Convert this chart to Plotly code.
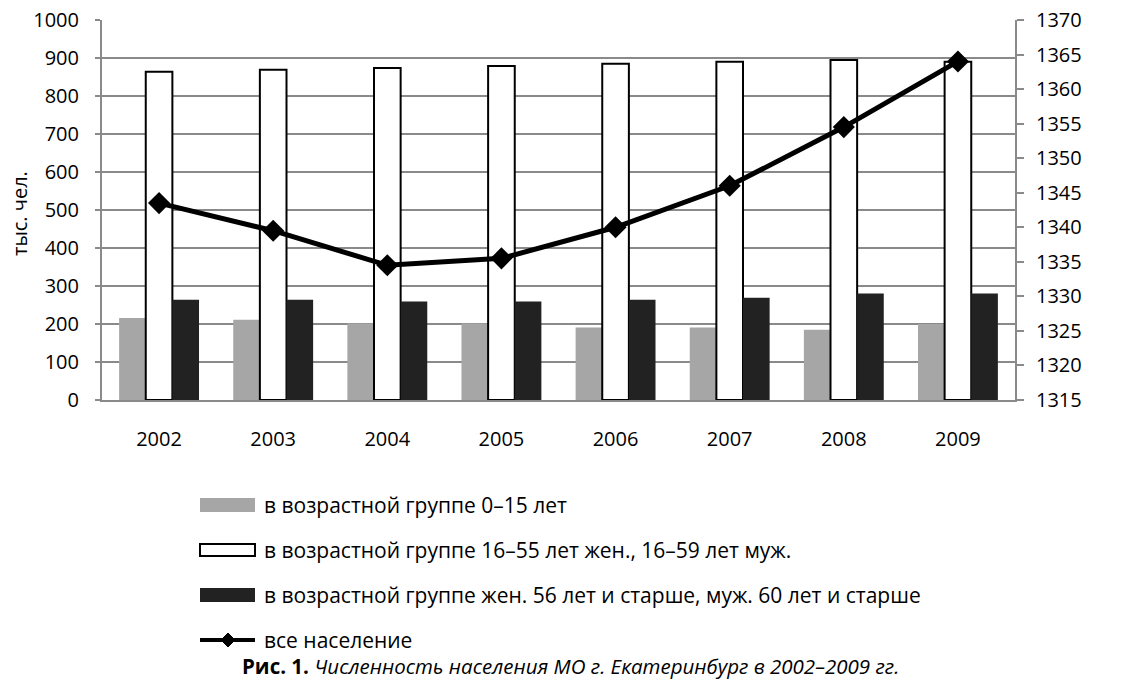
import plotly.graph_objects as go

years = ["2002", "2003", "2004", "2005", "2006", "2007", "2008", "2009"]
children = [216, 211, 201, 201, 191, 191, 185, 200]
working = [864, 869, 874, 879, 885, 890, 895, 890]
elderly = [264, 264, 259, 259, 264, 269, 280, 280]
total = [1343.5, 1339.5, 1334.5, 1335.5, 1340, 1346, 1354.5, 1364]

names = [
    "в возрастной группе 0–15 лет",
    "в возрастной группе 16–55 лет жен., 16–59 лет муж.",
    "в возрастной группе жен. 56 лет и старше, муж. 60 лет и старше",
    "все население",
]
caption_bold = "Рис. 1."
caption_italic = "Численность населения МО г. Екатеринбург в 2002–2009 гг."
y_title = "тыс. чел."

W, H = 1141, 680
L, T = 102, 20
PLOT_R, PLOT_B = 1015, 400
R, B = W - PLOT_R, H - PLOT_B
PW, PH = W - L - R, H - T - B

FONT = "Open Sans"
GRID = "#8a8a8a"

def px(x):
    return (x - L) / PW

def py(y):
    return (H - B - y) / PH

fig = go.Figure()
fig.add_trace(go.Bar(x=years, y=children, name=names[0],
                     marker=dict(color="#a6a6a6", line=dict(width=0))))
fig.add_trace(go.Bar(x=years, y=working, name=names[1],
                     marker=dict(color="white", line=dict(color="black", width=2))))
fig.add_trace(go.Bar(x=years, y=elderly, name=names[2],
                     marker=dict(color="#222222", line=dict(width=0))))
fig.add_trace(go.Scatter(x=years, y=total, name=names[3], yaxis="y2",
                         mode="lines+markers",
                         line=dict(color="black", width=5),
                         marker=dict(symbol="diamond", size=17, color="black")))

shapes = []
annotations = []
# manual legend
leg_y = [505, 550, 595, 640]
x0, x1 = 200, 255
shapes.append(dict(type="rect", xref="paper", yref="paper",
                   x0=px(x0), x1=px(x1), y0=py(leg_y[0] + 7), y1=py(leg_y[0] - 7),
                   fillcolor="#a6a6a6", line=dict(width=0)))
shapes.append(dict(type="rect", xref="paper", yref="paper",
                   x0=px(x0), x1=px(x1), y0=py(leg_y[1] + 6), y1=py(leg_y[1] - 6),
                   fillcolor="white", line=dict(color="black", width=2)))
shapes.append(dict(type="rect", xref="paper", yref="paper",
                   x0=px(x0), x1=px(x1), y0=py(leg_y[2] + 7), y1=py(leg_y[2] - 7),
                   fillcolor="#222222", line=dict(width=0)))
shapes.append(dict(type="line", xref="paper", yref="paper",
                   x0=px(x0), x1=px(x1), y0=py(leg_y[3]), y1=py(leg_y[3]),
                   line=dict(color="black", width=4)))
cx, cy, d = 228, leg_y[3], 7
path = "M {},{} L {},{} L {},{} L {},{} Z".format(
    px(cx), py(cy - d), px(cx + d), py(cy), px(cx), py(cy + d), px(cx - d), py(cy))
shapes.append(dict(type="path", xref="paper", yref="paper", path=path,
                   fillcolor="black", line=dict(color="black", width=1)))

for i, n in enumerate(names):
    annotations.append(dict(xref="paper", yref="paper", x=px(262), y=py(leg_y[i]),
                            xanchor="left", yanchor="middle", showarrow=False,
                            text=n, font=dict(family=FONT, size=21, color="black")))

annotations.append(dict(xref="paper", yref="paper", x=px(570), y=py(666),
                        xanchor="center", yanchor="middle", showarrow=False,
                        text="<b>" + caption_bold + "</b> <i>" + caption_italic + "</i>",
                        font=dict(family=FONT, size=20.5, color="black")))
annotations.append(dict(xref="paper", yref="paper", x=px(19), y=py(214),
                        xanchor="center", yanchor="middle", showarrow=False,
                        textangle=-90, text=y_title, borderpad=0,
                        font=dict(family=FONT, size=20, color="black")))

fig.update_layout(
    width=W, height=H,
    margin=dict(l=L, r=R, t=T, b=B, autoexpand=False),
    paper_bgcolor="white", plot_bgcolor="white",
    barmode="group", bargap=0.3, bargroupgap=0,
    showlegend=False,
    font=dict(family=FONT, size=20, color="black"),
    xaxis=dict(type="category", showline=True, linecolor=GRID, linewidth=2,
               ticks="", ticklabelstandoff=20, showgrid=False, automargin=False,
               tickfont=dict(size=20)),
    yaxis=dict(range=[0, 1000], dtick=100, showgrid=True, gridcolor=GRID,
               gridwidth=1.5, showline=True, linecolor=GRID, linewidth=2,
               ticks="outside", ticklen=5, tickcolor=GRID, tickwidth=1.5,
               zeroline=False, automargin=False, ticklabelstandoff=12,
               ticklabeloverflow="allow", tickfont=dict(size=20)),
    yaxis2=dict(range=[1315, 1370], dtick=5, overlaying="y", side="right",
                showgrid=False, showline=True, linecolor=GRID, linewidth=2,
                ticks="outside", ticklen=7, tickcolor=GRID, tickwidth=1.5,
                zeroline=False, automargin=False, ticklabelstandoff=8,
                ticklabeloverflow="allow", tickfont=dict(size=20)),
    shapes=shapes,
    annotations=annotations,
)

fig.write_html("out.html",
               config={"displayModeBar": False},
               post_script="document.body.style.margin='0px';document.body.style.padding='0px';")
